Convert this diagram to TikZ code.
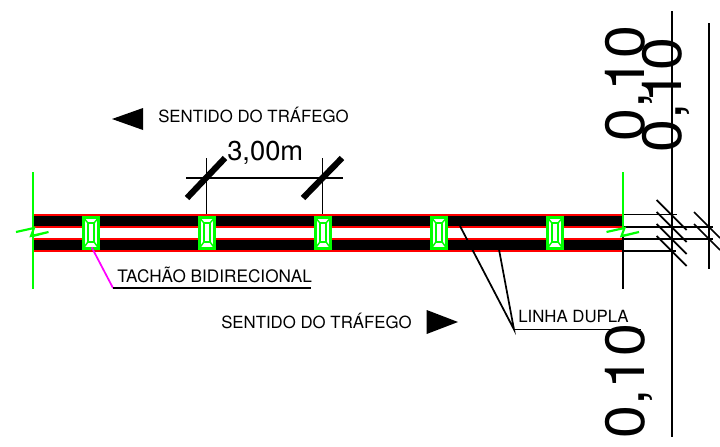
\documentclass[tikz,border=0pt]{standalone}
\usepackage{fontspec}
\setmainfont{TeX Gyre Heros}
\definecolor{verde}{RGB}{0,255,0}
\definecolor{vermelho}{RGB}{255,0,0}
\definecolor{rosa}{RGB}{255,0,255}
\tikzset{
  band/.style={draw=vermelho,line width=1.5pt,fill=black},
  marca/.style={draw=verde,line width=1.6pt},
  cota/.style={draw=black,line width=1pt},
  corte/.style={draw=black,line width=1.3pt},
  barra/.style={draw=black,line width=4.6pt},
  tachao/.style={draw=verde,line width=2pt,fill=white,minimum width=10.8pt,minimum height=22.8pt,inner sep=0pt},
  miolo/.style={draw=verde,line width=1.1pt,fill=white,minimum width=4.2pt,minimum height=14pt,inner sep=0pt},
  rotulo/.style={anchor=base west,inner sep=0pt,font=\fontsize{12.6}{15}\selectfont},
  medida/.style={anchor=base,rotate=90,xscale=1.07,inner sep=0pt,font=\fontsize{41.5}{48}\selectfont}
}
\begin{document}
\begin{tikzpicture}[x=0.75pt,y=-0.75pt]
\useasboundingbox (0,0) rectangle (720,446);

% Faixas
\draw[band] (33,214.5) rectangle (623,227);
\draw[band] (33,238.5) rectangle (623,251);

% Linhas de chamada da direita
\draw[corte] (623,214.5) -- (677,214.5);
\draw[corte] (623,227) -- (713,227);
\draw[corte] (623,239) -- (713,239);
\draw[corte] (623,251) -- (676,251);
\draw[corte] (623,236) -- (623,289);
\draw[corte] (672,11) -- (672,437);
\draw[corte] (709,23) -- (709,269);
\foreach \y in {200,212,224,236} {
  \draw[corte] (656.7,\y) -- (686.7,\y+30);
}
\foreach \y in {212,224} {
  \draw[corte] (694,\y) -- (720,\y+26);
}

% Cota de 3,00m
\draw[cota] (186,178) -- (343,178);
\draw[cota] (206.7,158) -- (206.7,214);
\draw[cota] (322.3,158) -- (322.3,214);
\draw[barra] (187,198) -- (225,158);
\draw[barra] (303,198) -- (342,158);
\node[anchor=base west,inner sep=0pt,font=\fontsize{20.5}{24}\selectfont] (dist) at (227,160) {3,00m};

% Tachoes
\foreach \x [count=\i] in {91,207,323,439,555} {
  \node[tachao] (t\i) at (\x,233) {};
  \node[miolo] (m\i) at (\x,232.5) {};
  \draw[verde,line width=1.1pt] (t\i.north west) -- (m\i.north west);
  \draw[verde,line width=1.1pt] (t\i.north east) -- (m\i.north east);
  \draw[verde,line width=1.1pt] (t\i.south west) -- (m\i.south west);
  \draw[verde,line width=1.1pt] (t\i.south east) -- (m\i.south east);
}

% Linhas de quebra
\draw[marca] (33,172) -- (33,289);
\draw[marca] (16,232) -- (34,228) -- (31,236) -- (48.5,232) -- (33,236);
\draw[marca] (623,172) -- (623,228.5);
\draw[marca] (606.5,232) -- (624.5,228) -- (621.5,236) -- (639,232) -- (623,236);

% Setas de sentido
\fill (112,119) -- (143,108) -- (143,130) -- cycle;
\fill (426.7,310) -- (458,322) -- (426.7,334) -- cycle;
\node[rotulo] (sup) at (158,122) {SENTIDO DO TRÁFEGO};
\node[rotulo] (inf) at (221,328) {SENTIDO DO TRÁFEGO};

% Chamadas
\coordinate (cotovelo) at (113,288);
\coordinate (fimtach) at (311,288);
\draw[rosa,line width=1.3pt] (91.7,247.3) -- (cotovelo);
\draw[corte] (cotovelo) -- (fimtach);
\node[rotulo,font=\fontsize{12.9}{15}\selectfont] (tach) at (117,282) {TACHÃO BIDIRECIONAL};
\coordinate (vertice) at (514,329.5);
\coordinate (fimlinha) at (641,329.5);
\coordinate (linha1) at (460,226);
\coordinate (linha2) at (499,249.5);
\draw[corte] (linha1) -- (vertice) -- (linha2);
\draw[corte] (vertice) -- (fimlinha);
\node[rotulo] (dupla) at (518,322) {LINHA DUPLA};

% Larguras
\node[medida] (larg1) at (644.5,83.5) {0,10};
\node[medida] (larg2) at (681.5,95) {0,10};
\node[medida] (larg3) at (644.5,381) {0,10};
\end{tikzpicture}
\end{document}
